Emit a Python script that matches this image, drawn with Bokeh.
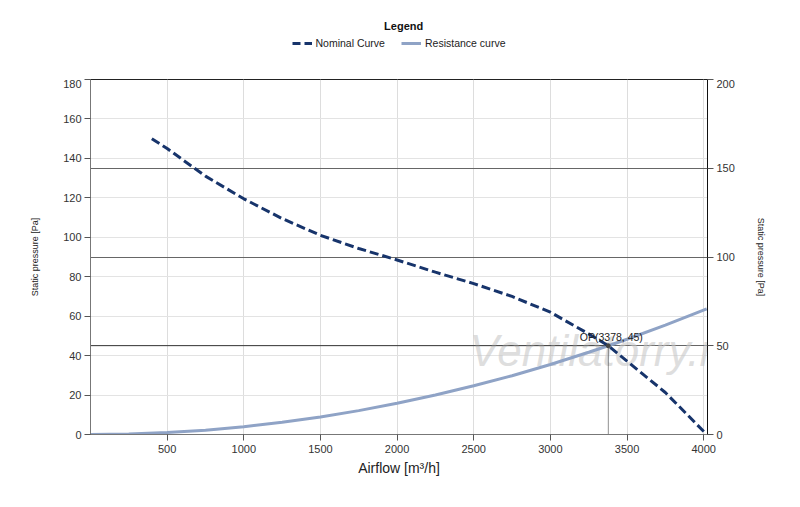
from bokeh.plotting import figure
from bokeh.models import (Range1d, LinearAxis, FixedTicker, Grid, Legend, LegendItem,
                          Label)
from bokeh.layouts import column
from bokeh.embed import file_html
from bokeh.resources import INLINE

# ---- data ----
nominal_x = [400, 500, 750, 1000, 1250, 1500, 1750, 2000, 2250, 2500, 2750, 3000,
             3250, 3378, 3500, 3750, 3900, 4020]
nominal_y = [150, 145, 131, 119.5, 109.5, 101, 94.3, 88.5, 82.3, 76.5, 70, 62,
             51, 45, 37.2, 21.3, 9.5, 0]

resist_x = [0, 250, 500, 750, 1000, 1250, 1500, 1750, 2000, 2250, 2500, 2750,
            3000, 3250, 3378, 3500, 3750, 4020]
resist_y = [0, 0.25, 1.0, 2.2, 3.9, 6.2, 8.9, 12.1, 15.8, 20.0, 24.7, 29.8,
            35.5, 41.7, 45, 48.3, 55.5, 63.7]

op_x, op_y = 3378, 45
x_ticks = [500, 1000, 1500, 2000, 2500, 3000, 3500, 4000]
left_ticks = [0, 20, 40, 60, 80, 100, 120, 140, 160, 180]
right_ticks = [0, 50, 100, 150, 200]
series_names = ["Nominal Curve", "Resistance curve"]

FONT = "Liberation Sans"
NOM_COLOR = "#17346b"
RES_COLOR = "#8fa3c6"

W = 792
TOP_H = 79

# ---------- legend strip ----------
top = figure(width=W, height=TOP_H, output_backend="svg", toolbar_location=None,
             x_range=Range1d(0, W), y_range=Range1d(0, TOP_H - 7),
             x_axis_type=None, y_axis_type=None, min_border=0, min_border_top=7)
top.outline_line_color = None
top.grid.visible = False
top.background_fill_color = "white"
top.border_fill_color = "white"
# legend-only renderers, kept outside the visible range
d_nom = top.line([-100, -50], [-100, -100], line_color=NOM_COLOR, line_width=3,
                 line_dash="8 4")
d_res = top.line([-100, -50], [-100, -100], line_color=RES_COLOR, line_width=3)
legend = Legend(items=[LegendItem(label=series_names[0], renderers=[d_nom]),
                       LegendItem(label=series_names[1], renderers=[d_res])],
                orientation="horizontal", location="center",
                label_text_font=FONT, label_text_font_size="10.5px",
                label_text_color="#222222", glyph_width=20, glyph_height=12,
                label_standoff=4, spacing=16, padding=2, margin=0,
                border_line_color=None, background_fill_alpha=0,
                label_height=12)
top.add_layout(legend, "center")
top.add_layout(Label(x=402, y=TOP_H - 25, text="Legend", text_font=FONT,
                     text_font_size="11px", text_font_style="bold",
                     text_color="#111111", text_align="center",
                     text_baseline="middle"))

# ---------- main chart ----------
p = figure(width=W, height=420, output_backend="svg", toolbar_location=None,
           x_range=Range1d(0, 4025), y_range=Range1d(0, 180),
           min_border_left=90, min_border_right=85, min_border_top=0,
           min_border_bottom=65)
p.extra_y_ranges = {"right": Range1d(0, 200)}
p.background_fill_color = "white"
p.border_fill_color = "white"
p.outline_line_color = "#222222"
p.outline_line_width = 1

p.xaxis.ticker = FixedTicker(ticks=x_ticks)
p.yaxis.ticker = FixedTicker(ticks=left_ticks)
for ax in (p.xaxis[0], p.yaxis[0]):
    ax.major_label_text_font = FONT
    ax.major_label_text_font_size = "11px"
    ax.major_label_text_color = "#333333"
    ax.axis_line_color = "#777777"
    ax.major_tick_line_color = "#555555"
    ax.major_tick_out = 6
    ax.major_tick_in = 0
    ax.minor_tick_line_color = None
    ax.axis_label_text_font = FONT
    ax.axis_label_text_font_style = "normal"
    ax.axis_label_text_color = "#222222"

p.xaxis.axis_label = "Airflow [m³/h]"
p.xaxis.axis_label_text_font_size = "14px"
p.xaxis.axis_label_standoff = 4
p.xaxis.major_label_standoff = 4

p.yaxis.axis_label = "Static pressure [Pa]"
p.yaxis.axis_label_text_font_size = "9px"
p.yaxis.axis_label_standoff = 20
p.yaxis.major_label_standoff = 3

right_axis = LinearAxis(y_range_name="right", ticker=FixedTicker(ticks=right_ticks),
                        axis_label="Static pressure [Pa]")
right_axis.major_label_text_font = FONT
right_axis.major_label_text_font_size = "11px"
right_axis.major_label_text_color = "#333333"
right_axis.axis_line_color = "#111111"
right_axis.major_tick_line_color = "#555555"
right_axis.major_tick_out = 6
right_axis.major_tick_in = 0
right_axis.minor_tick_line_color = None
right_axis.major_label_standoff = 3
right_axis.axis_label_text_font = FONT
right_axis.axis_label_text_font_size = "9px"
right_axis.axis_label_text_font_style = "normal"
right_axis.axis_label_text_color = "#222222"
right_axis.axis_label_standoff = 18
p.add_layout(right_axis, "right")

p.xgrid.grid_line_color = "#dddddd"
p.xgrid.grid_line_width = 1
p.ygrid.grid_line_color = "#e3e3e3"
p.ygrid.grid_line_width = 1
rgrid = Grid(dimension=1, ticker=FixedTicker(ticks=right_ticks), y_range_name="right",
             grid_line_color="#666666", grid_line_width=1.2)
p.add_layout(rgrid)

wm = Label(x=3350, y=42.5, text="Ventilatorry.ru", text_font=FONT,
           text_font_style="italic", text_font_size="44px",
           text_color="#c8c8c8", text_alpha=0.6, text_align="center",
           text_baseline="middle", level="underlay")
p.add_layout(wm)

p.line(resist_x, resist_y, line_color=RES_COLOR, line_width=3)
p.line(nominal_x, nominal_y, line_color=NOM_COLOR, line_width=3, line_dash="9 4")

p.line([0, op_x], [op_y, op_y], line_color="#222222", line_width=1, line_dash="1 1")
p.line([op_x, op_x], [0, op_y], line_color="#222222", line_width=1, line_dash="1 1")
p.scatter([op_x], [op_y], size=4, color="#444444")
p.add_layout(Label(x=op_x, y=op_y, text="OP(3378, 45)", text_font=FONT,
                   text_font_size="10.5px", text_color="#222222", text_align="center",
                   text_baseline="bottom", y_offset=3, x_offset=3))

layout = column(top, p, spacing=0)
open("out.html", "w").write(file_html(layout, INLINE))
